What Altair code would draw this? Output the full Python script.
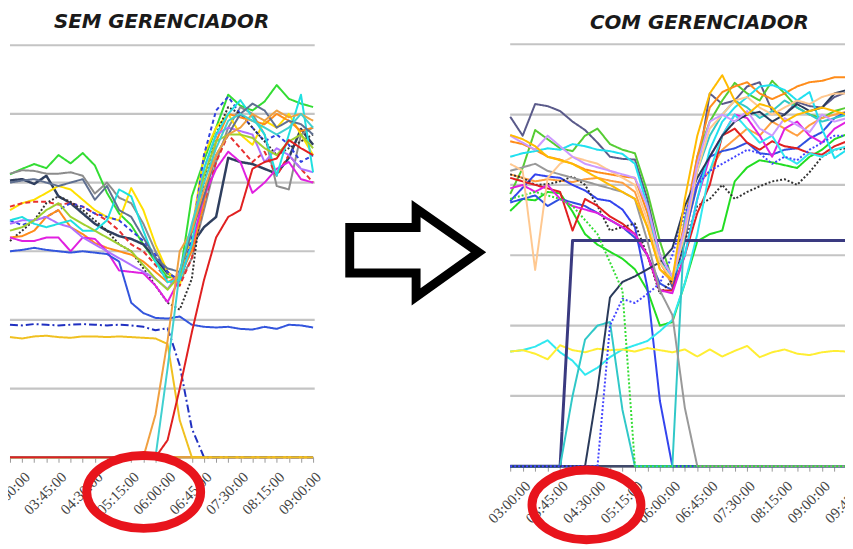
import altair as alt
import pandas as pd

# ---------------- time axes (15-minute steps) ----------------
LEFT_TIMES = ["02:45", "03:00", "03:15", "03:30", "03:45", "04:00", "04:15", "04:30", "04:45",
              "05:00", "05:15", "05:30", "05:45", "06:00", "06:15", "06:30", "06:45", "07:00",
              "07:15", "07:30", "07:45", "08:00", "08:15", "08:30", "08:45", "09:00"]
RIGHT_TIMES = LEFT_TIMES + ["09:15", "09:30"]
RIGHT_TICK_TIMES = RIGHT_TIMES + ["09:45"]
GRID_VALUES = [100, 200, 300, 400, 500, 600]

# ---------------- SEM GERENCIADOR (left) ----------------
L_VERDE = [412, 420, 427, 421, 440, 428, 443, 425, 385, 355, 338, 310, 285, 262, 262, 380, 432, 480, 528, 512, 505, 518, 542, 522, 515, 510]
L_ARDOSIA = [403, 405, 398, 410, 380, 370, 355, 340, 330, 322, 318, 310, 290, 268, 258, 310, 335, 350, 436, 430, 427, 420, 413, 436, 478, 455]
L_CINZA = [413, 418, 417, 413, 413, 415, 410, 384, 400, 378, 370, 340, 300, 270, 255, 290, 360, 430, 480, 510, 500, 470, 395, 390, 470, 480]
L_AMARELO = [360, 370, 375, 385, 395, 390, 375, 360, 350, 345, 392, 360, 310, 270, 250, 330, 440, 480, 500, 470, 455, 490, 480, 500, 470, 440]
L_VERMELHO_TR = [365, 370, 372, 372, 368, 370, 365, 355, 345, 330, 310, 300, 280, 258, 250, 290, 370, 430, 470, 450, 430, 445, 410, 440, 420, 400]
L_AZUL_TR = [345, 338, 345, 350, 360, 370, 365, 355, 350, 345, 330, 315, 295, 270, 255, 320, 440, 505, 525, 500, 480, 460, 470, 455, 430, 440]
L_PRETO_PT = [315, 330, 345, 370, 380, 372, 360, 345, 330, 310, 300, 275, 250, 225, 215, 260, 400, 470, 510, 500, 480, 460, 440, 450, 460, 470]
L_LARANJA = [320, 322, 330, 350, 360, 335, 325, 312, 305, 300, 295, 285, 270, 255, 265, 300, 370, 460, 500, 495, 490, 485, 500, 490, 475, 480]
L_MAGENTA = [320, 315, 315, 320, 320, 300, 320, 318, 300, 272, 270, 268, 250, 226, 260, 310, 380, 420, 445, 430, 385, 400, 420, 430, 405, 400]
L_VIOLETA = [340, 345, 345, 350, 340, 335, 320, 310, 300, 290, 280, 270, 260, 245, 270, 330, 420, 470, 480, 475, 470, 430, 450, 440, 420, 415]
L_CIANO = [345, 350, 340, 335, 340, 345, 330, 330, 345, 390, 380, 330, 285, 255, 258, 310, 420, 470, 500, 520, 495, 470, 410, 470, 528, 415]
L_VERDE_CLARO = [330, 335, 345, 360, 370, 350, 340, 330, 320, 310, 300, 280, 260, 244, 265, 330, 410, 460, 470, 470, 465, 450, 440, 460, 470, 450]
L_AZUL_ACO = [400, 403, 405, 400, 395, 400, 405, 375, 395, 360, 350, 320, 290, 275, 270, 330, 380, 440, 470, 500, 515, 505, 480, 490, 485, 470]
L_AZUL = [300, 302, 305, 302, 300, 298, 300, 298, 296, 285, 225, 210, 203, 202, 205, 193, 190, 189, 190, 187, 186, 190, 187, 193, 192, 189]
L_AZUL_TP = [193, 192, 194, 193, 192, 193, 194, 193, 192, 193, 192, 190, 185, 188, 134, 42, 0, 0, 0, 0, 0, 0, 0, 0, 0, 0]
L_OURO = [175, 173, 176, 177, 175, 174, 176, 176, 175, 176, 175, 174, 173, 165, 54, 0, 0, 0, 0, 0, 0, 0, 0, 0, 0, 0]
L_LARANJA_2 = [0, 0, 0, 0, 0, 0, 0, 0, 0, 0, 0, 0, 62, 170, 300, 330, 390, 440, 470, 480, 500, 490, 505, 495, 500, 490]
L_CIANO_2 = [0, 0, 0, 0, 0, 0, 0, 0, 0, 0, 0, 0, 0, 130, 270, 340, 400, 450, 490, 500, 490, 480, 470, 480, 500, 480]
L_VERMELHO = [0, 0, 0, 0, 0, 0, 0, 0, 0, 0, 0, 0, 0, 25, 100, 182, 258, 320, 350, 360, 420, 430, 435, 462, 450, 440]
L_BASE = [0, 0, 0, 0, 0, 0, 0, 0, 0, 0, 0, 0, 0, 0, 0, 0, 0, 0, 0, 0, 0, 0, 0, 0, 0, 0]

LEFT_SERIES = {
    "verde": L_VERDE, "ardosia": L_ARDOSIA, "cinza": L_CINZA, "amarelo": L_AMARELO,
    "vermelho_tr": L_VERMELHO_TR, "azul_tr": L_AZUL_TR, "preto_pt": L_PRETO_PT, "laranja": L_LARANJA,
    "magenta": L_MAGENTA, "violeta": L_VIOLETA, "ciano": L_CIANO, "verde_claro": L_VERDE_CLARO,
    "azul_aco": L_AZUL_ACO, "azul": L_AZUL, "azul_tp": L_AZUL_TP, "ouro": L_OURO,
    "laranja_2": L_LARANJA_2, "ciano_2": L_CIANO_2, "vermelho": L_VERMELHO,
}
LEFT_COLORS = {
    "verde": "#33dd33", "ardosia": "#2f3f5f", "cinza": "#8c8c8c", "amarelo": "#ffe000",
    "vermelho_tr": "#e83030", "azul_tr": "#3040e0", "preto_pt": "#333333", "laranja": "#ff8c1a",
    "magenta": "#e020e0", "violeta": "#b070ff", "ciano": "#20e0e0", "verde_claro": "#a0d030",
    "azul_aco": "#607090", "azul": "#3355dd", "azul_tp": "#2030c0", "ouro": "#f0c020",
    "laranja_2": "#f0a040", "ciano_2": "#40d0d0", "vermelho": "#e02020",
}
LEFT_DASH = {"vermelho_tr": [5, 3], "azul_tr": [4, 3], "preto_pt": [2, 2], "azul_tp": [8, 3, 2, 3]}
LEFT_WIDTH = {"ardosia": 2.5}

# ---------------- COM GERENCIADOR (right) ----------------
R_ARDOSIA = [497, 470, 515, 512, 505, 490, 478, 460, 440, 437, 436, 380, 300, 255, 320, 420, 530, 515, 520, 540, 546, 505, 500, 518, 512, 510, 525, 532]
R_VERDE = [387, 424, 478, 465, 452, 448, 470, 480, 458, 450, 445, 390, 320, 265, 330, 440, 490, 520, 545, 530, 520, 548, 530, 510, 500, 495, 505, 510]
R_VERDE_2 = [363, 380, 378, 390, 388, 362, 330, 315, 305, 295, 280, 250, 200, 205, 260, 320, 330, 335, 405, 425, 435, 432, 428, 424, 440, 450, 465, 472]
R_LARANJA = [462, 458, 450, 440, 436, 430, 422, 418, 415, 412, 410, 360, 290, 260, 350, 440, 510, 532, 540, 546, 530, 522, 530, 540, 546, 548, 553, 553]
R_LARANJA_2 = [415, 410, 405, 408, 406, 404, 408, 410, 406, 403, 390, 340, 280, 262, 330, 400, 420, 450, 465, 480, 470, 490, 480, 470, 485, 495, 500, 504]
R_AZUL_ZERO = [377, 396, 415, 412, 410, 400, 392, 380, 377, 365, 340, 254, 93, 0, 0, 0, 0, 0, 0, 0, 0, 0, 0, 0, 0, 0, 0, 0]
R_AZUL = [375, 380, 385, 370, 380, 375, 370, 360, 350, 340, 325, 300, 260, 250, 330, 400, 440, 448, 452, 460, 445, 443, 450, 452, 466, 475, 495, 504]
R_PRETO_PT = [415, 410, 400, 401, 405, 412, 400, 370, 335, 340, 345, 300, 245, 265, 320, 370, 380, 400, 380, 390, 398, 405, 408, 400, 418, 440, 450, 452]
R_VERMELHO = [410, 405, 400, 395, 390, 335, 380, 370, 355, 345, 330, 300, 250, 250, 300, 360, 400, 470, 480, 460, 450, 462, 455, 452, 445, 443, 455, 462]
R_MAGENTA = [395, 400, 390, 400, 380, 370, 365, 360, 350, 340, 330, 300, 250, 246, 300, 380, 440, 470, 500, 495, 470, 440, 480, 490, 470, 460, 480, 490]
R_CIANO = [440, 445, 448, 452, 450, 458, 455, 450, 448, 444, 430, 370, 290, 270, 300, 380, 450, 490, 510, 525, 540, 542, 535, 520, 532, 480, 438, 450]
R_CIANO_2 = [163, 165, 170, 179, 162, 150, 130, 140, 155, 166, 172, 178, 192, 208, 260, 330, 420, 470, 500, 480, 460, 470, 440, 430, 445, 440, 450, 455]
R_AMARELO = [163, 165, 160, 152, 172, 165, 162, 167, 165, 166, 163, 168, 165, 162, 166, 156, 166, 156, 164, 171, 155, 162, 166, 160, 158, 162, 164, 163]
R_MARINHO = [0, 0, 0, 0, 0, 321, 321, 321, 321, 321, 321, 321, 321, 321, 321, 321, 321, 321, 321, 321, 321, 321, 321, 321, 321, 321, 321, 321]
R_TURQUESA = [0, 0, 0, 0, 0, 100, 180, 200, 205, 80, 0, 0, 0, 0, 350, 420, 470, 500, 520, 510, 495, 505, 520, 510, 500, 490, 495, 500]
R_ARDOSIA_ESC = [0, 0, 0, 0, 0, 0, 0, 110, 240, 262, 270, 280, 290, 310, 370, 410, 440, 470, 490, 500, 504, 490, 500, 515, 505, 510, 530, 535]
R_AZUL_PT = [0, 0, 0, 0, 0, 0, 0, 0, 200, 238, 232, 245, 260, 300, 360, 400, 420, 430, 440, 450, 445, 430, 440, 435, 450, 460, 470, 470]
R_CINZA = [420, 425, 430, 420, 415, 410, 405, 400, 395, 390, 380, 320, 250, 215, 83, 0, 0, 0, 0, 0, 0, 0, 0, 0, 0, 0, 0, 0]
R_VERDE_PT = [380, 385, 390, 385, 380, 370, 350, 330, 290, 250, 0, 0, 0, 0, 0, 0, 0, 0, 0, 0, 0, 0, 0, 0, 0, 0, 0, 0]
R_PESSEGO = [430, 420, 279, 410, 430, 440, 435, 430, 420, 410, 400, 350, 290, 265, 330, 420, 480, 500, 520, 525, 510, 500, 510, 520, 515, 525, 530, 530]
R_LILAS = [470, 460, 450, 470, 455, 440, 430, 425, 420, 415, 410, 370, 300, 270, 340, 430, 490, 500, 490, 505, 480, 470, 495, 485, 475, 500, 490, 495]
R_OURO = [471, 465, 455, 440, 435, 430, 420, 410, 400, 390, 380, 340, 280, 265, 380, 470, 530, 556, 520, 500, 515, 510, 490, 500, 505, 510, 505, 500]
R_BASE = [0, 0, 0, 0, 0, 0, 0, 0, 0, 0, 0, 0, 0, 0, 0, 0, 0, 0, 0, 0, 0, 0, 0, 0, 0, 0, 0, 0]

RIGHT_SERIES = {
    "ardosia": R_ARDOSIA, "verde": R_VERDE, "verde_2": R_VERDE_2, "laranja": R_LARANJA,
    "laranja_2": R_LARANJA_2, "azul_zero": R_AZUL_ZERO, "azul": R_AZUL, "preto_pt": R_PRETO_PT,
    "vermelho": R_VERMELHO, "magenta": R_MAGENTA, "ciano": R_CIANO, "ciano_2": R_CIANO_2,
    "amarelo": R_AMARELO, "marinho": R_MARINHO, "turquesa": R_TURQUESA, "ardosia_esc": R_ARDOSIA_ESC,
    "azul_pt": R_AZUL_PT, "cinza": R_CINZA, "verde_pt": R_VERDE_PT, "pessego": R_PESSEGO,
    "lilas": R_LILAS, "ouro": R_OURO,
}
RIGHT_COLORS = {
    "ardosia": "#5a5a8a", "verde": "#55cc33", "verde_2": "#22dd22", "laranja": "#ff8c1a",
    "laranja_2": "#ff9f40", "azul_zero": "#3344ee", "azul": "#3050e0", "preto_pt": "#333333",
    "vermelho": "#e02020", "magenta": "#e020e0", "ciano": "#20e0f0", "ciano_2": "#30e8f0",
    "amarelo": "#ffee33", "marinho": "#3a3a80", "turquesa": "#30c8c8", "ardosia_esc": "#2a3a5a",
    "azul_pt": "#4444ff", "cinza": "#999999", "verde_pt": "#33dd33", "pessego": "#ffc890",
    "lilas": "#cc99ff", "ouro": "#ffbb00",
}
RIGHT_DASH = {"preto_pt": [2, 2], "azul_pt": [2, 2], "verde_pt": [2, 2]}
RIGHT_WIDTH = {"marinho": 3}

# ---------------- decorations (page units) ----------------
TITLES = ["SEM GERENCIADOR", "COM GERENCIADOR"]
TITLE_X = [163, 706]
TITLE_Y = [20, 21]
ARROW_X = [353, 420, 420, 483, 420, 420, 353, 353]
ARROW_Y = [227, 227, 208, 252, 297, 273, 273, 227]
ELLIPSE_X = [145, 592]
ELLIPSE_Y = [494, 507]
ELLIPSE_SIZE = [13225, 12100]
ELLIPSE_PATH = "M -1 0 A 1 0.64 0 1 1 1 0 A 1 0.64 0 1 1 -1 0 Z"


def to_min(s):
    h, m = s.split(":")
    return int(h) * 60 + int(m)


def long_df(times, series, widths):
    rows = []
    for name, vals in series.items():
        for t, v in zip(times, vals):
            rows.append({"t": to_min(t), "v": v, "s": name, "w": widths.get(name, 2)})
    return pd.DataFrame(rows)


def base_df(times, vals):
    return pd.DataFrame({"t": [to_min(t) for t in times], "v": vals})


W, H = 845, 470
LX = alt.Scale(domain=[165, 540], range=[2, 308])
LY = alt.Scale(domain=[0, 600], range=[451, 35])
RX = alt.Scale(domain=[165, 585], range=[507, 859.6])
RY = alt.Scale(domain=[0, 600], range=[460, 34])
DX = alt.Scale(domain=[0, 853], range=[-8, 845])
DY = alt.Scale(domain=[0, 549], range=[-8, 541])

LABEL_EXPR = "datum.value % 45 == 0 ? utcFormat(datum.value * 60000, '%H:%M:%S') : ''"


def time_axis(ticks, offset):
    return alt.Axis(values=ticks, labelExpr=LABEL_EXPR, labelAngle=-45, labelFont="Liberation Serif",
                    labelFontSize=15, labelColor="#454545", labelOverlap=False, labelPadding=7,
                    tickSize=5, tickColor="#999999", domainColor="#999999", domainWidth=1.5,
                    grid=False, orient="bottom", offset=offset, title=None, labelFlush=False)


def panel(series, colors, dashes, widths, times, ticks, sx, sy, grid_end, axis_offset, base_color, clip):
    names = list(series.keys())
    grid = alt.Chart(pd.DataFrame({"g": GRID_VALUES})).mark_rule(color="#c4c4c4", strokeWidth=2.2).encode(
        x=alt.XDatum(165, type="quantitative", scale=sx, axis=None),
        x2=alt.X2Datum(grid_end),
        y=alt.Y("g:Q", scale=sy, axis=None),
    )
    base = alt.Chart(base_df(times, [0] * len(times))).mark_line(color=base_color, strokeWidth=2.5, clip=clip).encode(
        x=alt.X("t:Q", scale=sx, axis=time_axis([to_min(t) for t in ticks], axis_offset)),
        y=alt.Y("v:Q", scale=sy, axis=None),
    )
    lines = alt.Chart(long_df(times, series, widths)).mark_line(clip=clip, strokeJoin="round").encode(
        x=alt.X("t:Q", scale=sx, axis=None),
        y=alt.Y("v:Q", scale=sy, axis=None),
        color=alt.Color("s:N", scale=alt.Scale(domain=names, range=[colors[n] for n in names]), legend=None),
        strokeDash=alt.StrokeDash("s:N", scale=alt.Scale(domain=names, range=[dashes.get(n, [1, 0]) for n in names]), legend=None),
        strokeWidth=alt.StrokeWidth("w:Q", scale=None),
    )
    return [grid, base, lines]


left_layers = panel(LEFT_SERIES, LEFT_COLORS, LEFT_DASH, LEFT_WIDTH, LEFT_TIMES, LEFT_TIMES,
                    LX, LY, 542, -19, "#e0a040", False)
right_layers = panel(RIGHT_SERIES, RIGHT_COLORS, RIGHT_DASH, RIGHT_WIDTH, RIGHT_TIMES, RIGHT_TICK_TIMES,
                     RX, RY, 580, -10, "#404a6a", True)

titles = alt.Chart(pd.DataFrame({"x": TITLE_X, "y": TITLE_Y, "txt": TITLES})).mark_text(
    font="DejaVu Sans", fontSize=20, fontStyle="italic", fontWeight="bold", color="#1a1a1a",
    align="center", baseline="middle").encode(
    x=alt.X("x:Q", scale=DX, axis=None), y=alt.Y("y:Q", scale=DY, axis=None), text="txt:N")

arrow = alt.Chart(pd.DataFrame({"x": ARROW_X, "y": ARROW_Y, "o": list(range(len(ARROW_X)))})).mark_line(
    color="black", strokeWidth=9, strokeJoin="miter", strokeMiterLimit=10, strokeCap="square").encode(
    x=alt.X("x:Q", scale=DX, axis=None), y=alt.Y("y:Q", scale=DY, axis=None), order="o:Q")

ellipses = alt.Chart(pd.DataFrame({"x": ELLIPSE_X, "y": ELLIPSE_Y, "sz": ELLIPSE_SIZE})).mark_point(
    shape=ELLIPSE_PATH, filled=False, stroke="#e8141c", strokeWidth=9, opacity=1).encode(
    x=alt.X("x:Q", scale=DX, axis=None), y=alt.Y("y:Q", scale=DY, axis=None),
    size=alt.Size("sz:Q", scale=None))

chart = alt.layer(*left_layers, *right_layers, titles, arrow, ellipses).resolve_scale(
    x="independent", y="independent", color="independent", strokeDash="independent",
    strokeWidth="independent", size="independent"
).properties(
    width=W, height=H, autosize=alt.AutoSizeParams(type="none"),
    padding={"left": 0, "top": 0, "right": 0, "bottom": 71},
).configure_view(stroke=None)

chart.save("out.html", embed_options={"renderer": "svg", "actions": False})
